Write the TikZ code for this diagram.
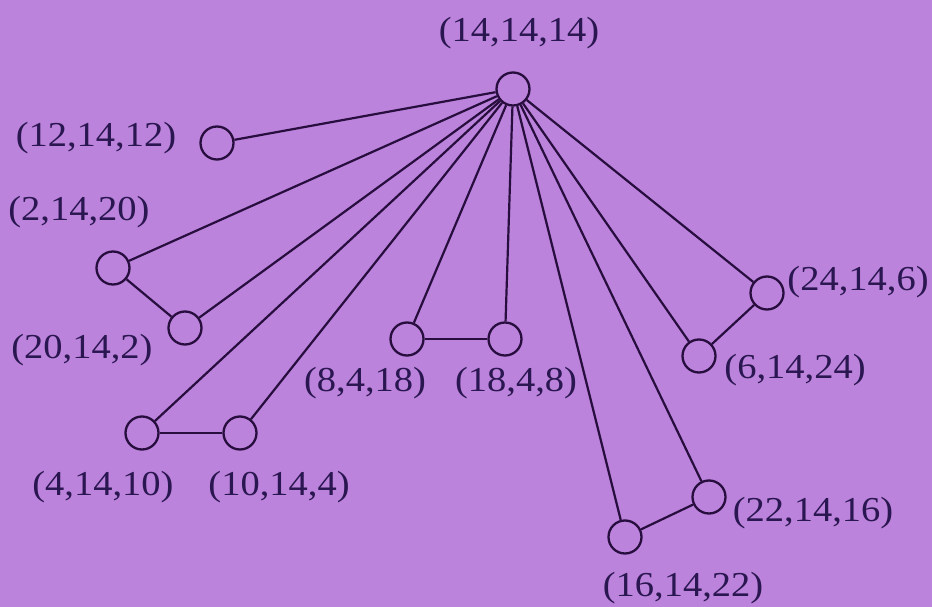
\documentclass[tikz,border=0pt]{standalone}
\usepackage{fontspec}
\setmainfont{Liberation Serif}
\definecolor{bgc}{RGB}{188,131,220}
\definecolor{linec}{RGB}{40,14,62}
\definecolor{textc}{RGB}{42,22,80}
\begin{document}
\begin{tikzpicture}[x=1pt,y=-1pt,
  vtx/.style={circle,draw=linec,line width=2.3pt,minimum size=33pt,inner sep=0pt},
  lbl/.style={text=textc,font=\fontsize{35}{40}\selectfont,inner sep=0pt,xscale=1.1},
  edge/.style={draw=linec,line width=2.2pt}]
\fill[bgc] (0,0) rectangle (932,607);
\useasboundingbox (0,0) rectangle (932,607);
% vertices
\node[vtx] (t) at (513,89) {};
\node[vtx] (a) at (217,143) {};
\node[vtx] (b) at (113,268) {};
\node[vtx] (c) at (185,328) {};
\node[vtx] (d) at (142,433) {};
\node[vtx] (e) at (240,433) {};
\node[vtx] (f) at (407,339) {};
\node[vtx] (g) at (505,339) {};
\node[vtx] (h) at (699,356) {};
\node[vtx] (i) at (767,293) {};
\node[vtx] (j) at (709,497) {};
\node[vtx] (k) at (625,537) {};
% labels
\node[lbl] (lt) at (519,33) {(14,14,14)};
\node[lbl] (la) at (96,138) {(12,14,12)};
\node[lbl] (lb) at (79,212) {(2,14,20)};
\node[lbl] (lc) at (82,350) {(20,14,2)};
\node[lbl] (ld) at (103,487) {(4,14,10)};
\node[lbl] (le) at (279,487) {(10,14,4)};
\node[lbl] (lf) at (365,383) {(8,4,18)};
\node[lbl] (lg) at (516,383) {(18,4,8)};
\node[lbl] (lh) at (795,370) {(6,14,24)};
\node[lbl] (li) at (858,282) {(24,14,6)};
\node[lbl] (lj) at (813,513) {(22,14,16)};
\node[lbl] (lk) at (683,588) {(16,14,22)};
% edges
\foreach \n in {a,b,c,d,e,f,g,h,i,j,k} \draw[edge] (t) -- (\n);
\draw[edge] (b) -- (c);
\draw[edge] (d) -- (e);
\draw[edge] (f) -- (g);
\draw[edge] (h) -- (i);
\draw[edge] (k) -- (j);
\end{tikzpicture}
\end{document}
